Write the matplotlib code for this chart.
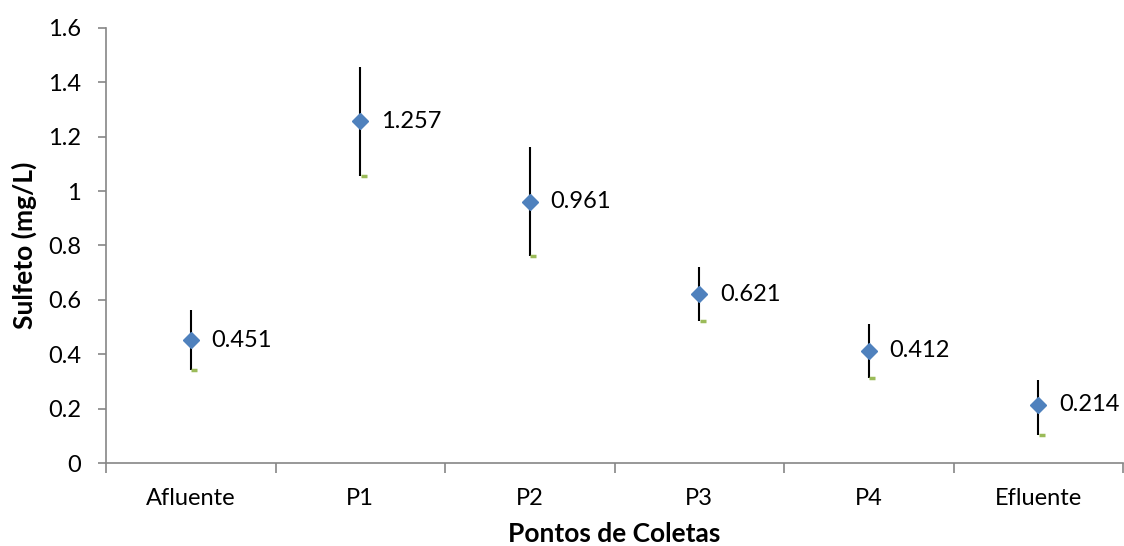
import numpy as np
import matplotlib.pyplot as plt

pontos = ['Afluente', 'P1', 'P2', 'P3', 'P4', 'Efluente']
sulfeto = [0.451, 1.257, 0.961, 0.621, 0.412, 0.214]
erro_sup = [0.11, 0.20, 0.20, 0.10, 0.10, 0.09]
erro_inf = [0.11, 0.20, 0.20, 0.10, 0.10, 0.11]

plt.rcParams['font.family'] = ['Lato', 'DejaVu Sans']

fig = plt.figure(figsize=(11.24, 5.46), dpi=100)
ax = fig.add_axes([0.0943, 0.152, 0.905, 0.797])

x = np.arange(len(pontos))
y = np.array(sulfeto)
lo = y - np.array(erro_inf)
hi = y + np.array(erro_sup)

ax.vlines(x, lo, hi, color='black', lw=1.5, zorder=2)
ax.plot(x + 0.02, lo, ls='none', marker='_', ms=5, mew=2.5, color='#9BBB59', zorder=2)
ax.plot(x, y, ls='none', marker='D', ms=8, color='#4F81BD', zorder=3)

for xi, yi in zip(x, y):
    ax.annotate('%.3f' % yi, (xi, yi), xytext=(15, 0), textcoords='offset points',
                va='center', ha='left', fontsize=17)

ax.set_xlim(-0.5, len(pontos) - 0.5)
ax.set_ylim(0, 1.6)
ax.set_yticks(np.arange(0, 1.61, 0.2))
ax.set_yticklabels(['0', '0.2', '0.4', '0.6', '0.8', '1', '1.2', '1.4', '1.6'])
ax.set_xticks(x)
ax.set_xticklabels(pontos)
ax.set_xticks(np.arange(-0.5, len(pontos), 1), minor=True)
ax.tick_params(axis='x', which='major', length=0, pad=18, labelsize=17)
ax.tick_params(axis='x', which='minor', length=7, color='#868686', width=1.2)
ax.tick_params(axis='y', length=6, color='#868686', width=1.2, labelsize=17, pad=12)

for s in ['top', 'right']:
    ax.spines[s].set_visible(False)
for s in ['left', 'bottom']:
    ax.spines[s].set_color('#868686')
    ax.spines[s].set_linewidth(1.2)

ax.set_xlabel('Pontos de Coletas', fontsize=19, fontweight='bold', labelpad=9)
ax.set_ylabel('Sulfeto (mg/L)', fontsize=19, fontweight='bold', labelpad=8)

fig.savefig('out.png', dpi=100)
